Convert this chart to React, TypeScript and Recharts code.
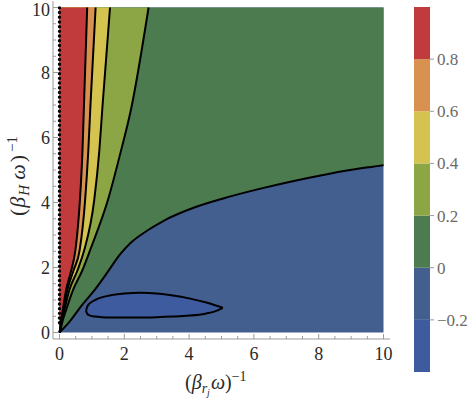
import React from 'react';
import { ComposedChart, Area, Line, XAxis, YAxis, ReferenceLine, BarChart, Bar, Label } from 'recharts';

// ---- contour boundaries (x samples and y values) ----
const redOrangeX = [0, 0.02, 0.05, 0.1, 0.2, 0.36, 0.49, 0.63, 0.71, 0.756, 0.855];
const redOrangeY = [0, 0.12, 0.37, 0.68, 1.29, 1.9, 2.52, 4.06, 5.6, 7.0, 10];
const orangeYellowX = [0, 0.025, 0.06, 0.12, 0.24, 0.43, 0.62, 0.79, 0.89, 0.956, 1.115];
const orangeYellowY = [0, 0.12, 0.37, 0.68, 1.29, 1.9, 2.52, 4.06, 5.6, 7.0, 10];
const yellowLimeX = [0, 0.03, 0.07, 0.15, 0.3, 0.55, 0.76, 1.07, 1.23, 1.33, 1.56];
const yellowLimeY = [0, 0.12, 0.37, 0.68, 1.29, 1.9, 2.52, 4.06, 5.6, 7.0, 10];
const limeGreenX = [0, 0.04, 0.1, 0.2, 0.41, 0.7, 0.97, 1.49, 1.9, 2.2, 2.75];
const limeGreenY = [0, 0.12, 0.37, 0.68, 1.29, 1.9, 2.6, 4.06, 5.6, 6.83, 10];
const greenBlueX = [0, 0.3, 0.7, 1.1, 1.5, 1.85, 2.2, 2.7, 3.2, 4.2, 5.25, 6.3, 7.3, 8.3, 9.35, 10];
const greenBlueY = [0, 0.32, 0.85, 1.33, 1.88, 2.38, 2.76, 3.13, 3.43, 3.86, 4.18, 4.45, 4.68, 4.88, 5.06, 5.15];

// closed contour (level -0.2)
const loopX = [0.82, 0.86, 0.95, 1.1, 1.3, 1.6, 2.0, 2.5, 3.0, 3.5, 4.0, 4.5, 4.8, 5.04];
const loopLow = [0.67, 0.57, 0.52, 0.49, 0.47, 0.46, 0.46, 0.46, 0.47, 0.49, 0.52, 0.58, 0.65, 0.76];
const loopHigh = [0.67, 0.8, 0.91, 1.0, 1.08, 1.15, 1.2, 1.22, 1.2, 1.14, 1.05, 0.93, 0.84, 0.76];

const dataMinX = 0;
const dataMaxX = 10;
const dataMaxY = 10;
const dottedFromY = 0.3;

// colour bar levels
const levels = [-0.4, -0.2, 0, 0.2, 0.4, 0.6, 0.8, 1.0];
const levelTicks = [-0.2, 0, 0.2, 0.4, 0.6, 0.8];
const bandColors = ['#3e5b9f', '#425f90', '#4b7b4f', '#8ca545', '#d4c44f', '#d9914f', '#c13b3c'];

const axisTicks = [0, 0.5, 1, 1.5, 2, 2.5, 3, 3.5, 4, 4.5, 5, 5.5, 6, 6.5, 7, 7.5, 8, 8.5, 9, 9.5, 10];

// boundaries in painter's order (fill lies above each boundary)
const boundaries = [
  { key: 'green', xs: greenBlueX, ys: greenBlueY, color: bandColors[2] },
  { key: 'lime', xs: limeGreenX, ys: limeGreenY, color: bandColors[3] },
  { key: 'yellow', xs: yellowLimeX, ys: yellowLimeY, color: bandColors[4] },
  { key: 'orange', xs: orangeYellowX, ys: orangeYellowY, color: bandColors[5] },
  { key: 'red', xs: redOrangeX, ys: redOrangeY, color: bandColors[6] },
];

const rowMap = new Map<number, any>();
const put = (x: number, key: string, val: any) => {
  let r = rowMap.get(x);
  if (!r) {
    r = { x };
    rowMap.set(x, r);
  }
  r[key] = val;
};
put(dataMinX, 'bg', [0, dataMaxY]);
put(dataMaxX, 'bg', [0, dataMaxY]);
boundaries.forEach((b) => {
  b.xs.forEach((x, i) => {
    put(x, b.key + 'Fill', [b.ys[i], dataMaxY]);
    put(x, b.key + 'Line', b.ys[i]);
  });
});
loopX.forEach((x, i) => put(x, 'loop', [loopLow[i], loopHigh[i]]));
const rows = Array.from(rowMap.values()).sort((a, b) => a.x - b.x);

// colour bar row (stacked with sign offset)
const bandRow: any = { name: 'bar' };
const bandOrder: number[] = [];
levels.slice(0, -1).forEach((lo, i) => {
  const hi = levels[i + 1];
  bandRow['band' + i] = lo < 0 ? lo - hi : hi - lo;
});
for (let i = levels.length - 2; i >= 0; i--) if (levels[i] < 0) bandOrder.push(i);
for (let i = 0; i < levels.length - 1; i++) if (levels[i] >= 0) bandOrder.push(i);

const FRAME = '#9b9b9b';
const TEXT = '#2a2a2a';
const FONT = "'Liberation Serif', 'DejaVu Serif', serif";
const serif = { fontFamily: FONT };

const isMajor = (v: number) => Math.abs(v % 2) < 1e-9;

const BottomTick = (p: any) => {
  const v = p.payload.value;
  const maj = isMajor(v);
  return (
    <g>
      <line x1={p.x} y1={p.y} x2={p.x} y2={p.y - (maj ? 5 : 3)} stroke={FRAME} />
      {maj && (
        <text x={p.x} y={p.y + 21} textAnchor="middle" style={serif} fontSize={18} fill={TEXT}>
          {v}
        </text>
      )}
    </g>
  );
};
const TopTick = (p: any) => {
  const v = p.payload.value;
  return <line x1={p.x} y1={p.y} x2={p.x} y2={p.y + (isMajor(v) ? 5 : 3)} stroke={FRAME} />;
};
const LeftTick = (p: any) => {
  const v = p.payload.value;
  const maj = isMajor(v);
  return (
    <g>
      <line x1={p.x} y1={p.y} x2={p.x + (maj ? 5 : 3)} y2={p.y} stroke={FRAME} />
      {maj && (
        <text x={p.x - 3} y={Math.max(p.y + 6, 16)} textAnchor="end" style={serif} fontSize={18} fill={TEXT}>
          {v}
        </text>
      )}
    </g>
  );
};
const RightTick = (p: any) => {
  const v = p.payload.value;
  return <line x1={p.x} y1={p.y} x2={p.x - (isMajor(v) ? 5 : 3)} y2={p.y} stroke={FRAME} />;
};
const BarTick = (p: any) => {
  const v = p.payload.value;
  const s = v === 0 ? '0' : v < 0 ? '\u2212' + Math.abs(v) : String(v);
  return (
    <g>
      <line x1={p.x} y1={p.y} x2={p.x + 4} y2={p.y} stroke={FRAME} />
      <text x={p.x + 7} y={p.y + 6} style={serif} fontSize={17} fill="#6a6a6a">
        {s}
      </text>
    </g>
  );
};

const XLabel = (p: any) => {
  const vb = p.viewBox;
  const sx = vb.x + 132;
  const by = vb.y + 50;
  return (
    <text x={sx} y={by} textAnchor="start" style={serif} fontSize={20} fill={TEXT}>
      (<tspan fontStyle="italic">β</tspan>
      <tspan fontStyle="italic" fontSize={14} dy={4}>r</tspan>
      <tspan fontStyle="italic" fontSize={10} dy={3}>j</tspan>
      <tspan fontStyle="italic" dx={1} dy={-7}>ω</tspan>)
      <tspan fontSize={14} dy={-8}>−1</tspan>
    </text>
  );
};
const YLabel = (p: any) => {
  const vb = p.viewBox;
  const cx = vb.x + 25;
  const sy = vb.y + 215;
  return (
    <text transform={`translate(${cx},${sy}) rotate(-90)`} textAnchor="start" style={serif} fontSize={22} fill={TEXT}>
      (<tspan fontStyle="italic" dx={1}>β</tspan>
      <tspan fontStyle="italic" fontSize={15} dx={1} dy={4}>H</tspan>
      <tspan fontStyle="italic" dx={5} dy={-4}>ω</tspan>
      <tspan dx={2}>)</tspan>
      <tspan fontSize={15} dx={3} dy={-8}>−1</tspan>
    </text>
  );
};

export default function App() {
  const dom: [number, number] = [-0.2, 10.2];
  return (
    <div style={{ position: 'absolute', left: 0, top: 0, width: 474, height: 399, background: '#fff' }}>
      <div style={{ position: 'absolute', left: 0, top: 0 }}>
        <ComposedChart width={395} height={399} data={rows} margin={{ top: 1, right: 5, bottom: 0, left: 0 }}>
          <XAxis
            dataKey="x"
            type="number"
            domain={dom}
            allowDataOverflow
            ticks={axisTicks}
            interval={0}
            height={60}
            tickSize={0}
            tickMargin={0}
            tickLine={false}
            stroke={FRAME}
            tick={BottomTick}
          >
            <Label content={XLabel} />
          </XAxis>
          <XAxis
            xAxisId="top"
            orientation="top"
            dataKey="x"
            type="number"
            domain={dom}
            allowDataOverflow
            ticks={axisTicks}
            interval={0}
            height={0}
            tickSize={0}
            tickMargin={0}
            tickLine={false}
            stroke={FRAME}
            tick={TopTick}
          />
          <YAxis
            type="number"
            domain={dom}
            allowDataOverflow
            ticks={axisTicks}
            interval={0}
            width={53}
            tickSize={0}
            tickMargin={0}
            tickLine={false}
            stroke={FRAME}
            tick={LeftTick}
          >
            <Label content={YLabel} />
          </YAxis>
          <YAxis
            yAxisId="right"
            orientation="right"
            type="number"
            domain={dom}
            allowDataOverflow
            ticks={axisTicks}
            interval={0}
            width={0}
            tickSize={0}
            tickMargin={0}
            tickLine={false}
            stroke={FRAME}
            tick={RightTick}
          />
          <Area dataKey="bg" type="linear" fill={bandColors[1]} fillOpacity={1} stroke="none" connectNulls isAnimationActive={false} activeDot={false} />
          {boundaries.map((b) => (
            <Area
              key={b.key + 'Fill'}
              dataKey={b.key + 'Fill'}
              type="monotone"
              fill={b.color}
              fillOpacity={1}
              stroke="none"
              connectNulls
              isAnimationActive={false}
              activeDot={false}
            />
          ))}
          <Area
            dataKey="loop"
            type="monotone"
            fill={bandColors[0]}
            fillOpacity={1}
            stroke="#000"
            strokeWidth={2}
            connectNulls
            isAnimationActive={false}
            activeDot={false}
          />
          {boundaries.map((b) => (
            <Line
              key={b.key + 'Line'}
              dataKey={b.key + 'Line'}
              type="monotone"
              stroke="#000"
              strokeWidth={2}
              dot={false}
              activeDot={false}
              connectNulls
              isAnimationActive={false}
            />
          ))}
          <ReferenceLine
            segment={[
              { x: 0, y: dottedFromY },
              { x: 0, y: dataMaxY },
            ]}
            stroke="#000"
            strokeWidth={3.4}
            strokeDasharray="0 4.7"
            strokeLinecap="round"
          />
        </ComposedChart>
      </div>
      <div style={{ position: 'absolute', left: 395, top: 0 }}>
        <BarChart
          width={79}
          height={399}
          data={[bandRow]}
          stackOffset="sign"
          barCategoryGap={0}
          margin={{ top: 7, right: 0, bottom: 27, left: 19 }}
        >
          <XAxis dataKey="name" hide />
          <YAxis
            orientation="right"
            type="number"
            domain={[levels[0], levels[levels.length - 1]]}
            allowDataOverflow
            ticks={levelTicks}
            interval={0}
            width={44}
            tickSize={0}
            tickMargin={0}
            tickLine={false}
            axisLine={false}
            tick={BarTick}
          />
          {bandOrder.map((i) => (
            <Bar key={'band' + i} dataKey={'band' + i} stackId="cb" fill={bandColors[i]} isAnimationActive={false} />
          ))}
        </BarChart>
      </div>
    </div>
  );
}
